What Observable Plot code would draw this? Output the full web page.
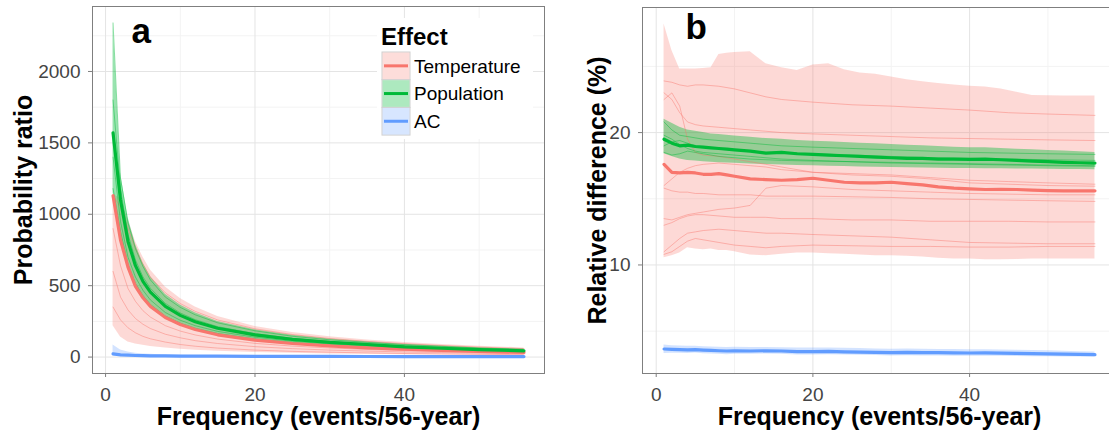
<!DOCTYPE html>
<html>
<head>
<meta charset="utf-8">
<script src="https://cdn.jsdelivr.net/npm/d3@7"></script>
<script src="https://cdn.jsdelivr.net/npm/@observablehq/plot@0.6"></script>
<style>
  html, body { margin: 0; padding: 0; background: #fff; overflow: hidden; }
  #wrap { position: relative; width: 1109px; height: 432px; overflow: hidden; font-family: "Liberation Sans", Arial, sans-serif; }
  #wrap > * { position: absolute; top: 0; }
</style>
</head>
<body>
<div id="wrap"></div>
<script>
// ---------- categories ----------
const effects = ["Temperature", "Population", "AC"];
const effectColors = ["#F8766D", "#00BA38", "#619CFF"];

// ---------- ticks ----------
const xMajor = [0, 20, 40];
const xMinor = [10, 30, 50];
const yMajorA = [0, 500, 1000, 1500, 2000];
const yMinorA = [250, 750, 1250, 1750, 2250];
const yMajorB = [10, 20];
const yMinorB = [5, 15, 25];

// ---------- panel a : probability ratio ----------
const xa = [1, 2, 3, 4, 5, 6, 8, 10, 12, 15, 20, 25, 30, 35, 40, 45, 50, 56];
const tempLineA = [1130, 820, 630, 495, 415, 355, 277, 228, 193, 156, 119, 95, 78, 65, 55, 47, 40, 33];
const tempHiA   = [1140, 1110, 960, 810, 700, 610, 490, 410, 350, 285, 215, 172, 143, 120, 102, 88, 76, 64];
const tempLoA   = [220, 140, 105, 92, 82, 74, 63, 55, 48, 40, 32, 26, 22, 19, 16, 14, 13, 11];
const popLineA  = [1570, 1100, 810, 640, 530, 455, 355, 292, 248, 202, 155, 124, 103, 88, 72, 62, 52, 44];
const popHiA    = [2340, 1290, 980, 790, 660, 565, 440, 365, 310, 250, 192, 152, 126, 107, 90, 77, 65, 56];
const popLoA    = [1150, 860, 620, 490, 410, 350, 272, 225, 192, 157, 121, 97, 81, 70, 58, 50, 42, 35];
const acLineA   = [22, 16, 13, 11, 10, 9, 8, 7, 6.5, 6, 5, 4.6, 4.3, 4, 3.8, 3.6, 3.4, 3.2];
const acHiA     = [85, 50, 35, 27, 22, 19, 15, 13, 11.5, 10, 8.5, 7.5, 6.8, 6.2, 5.8, 5.4, 5, 4.7];
const acLoA     = [8, 6, 5, 4.5, 4, 3.7, 3.3, 3, 2.8, 2.5, 2.2, 2, 1.9, 1.8, 1.7, 1.6, 1.5, 1.4];
// individual model runs (thin lines)
const tempRunA1 = [1130, 1050, 900, 760, 650, 560, 450, 375, 320, 260, 198, 158, 130, 110, 94, 81, 70, 59];
const tempRunA2 = [600, 420, 330, 270, 230, 200, 160, 135, 115, 95, 73, 59, 49, 42, 36, 32, 28, 24];
const tempRunA3 = [350, 260, 205, 170, 145, 128, 105, 88, 76, 63, 49, 40, 34, 29, 25, 22, 19, 17];
const tempRunA4 = [900, 640, 480, 390, 325, 280, 220, 182, 155, 126, 96, 77, 64, 54, 46, 40, 35, 30];
const popRunA1  = [2340, 1250, 940, 760, 635, 540, 420, 348, 296, 240, 184, 146, 121, 103, 87, 75, 63, 54];
const popRunA2  = [1180, 880, 650, 515, 430, 368, 287, 237, 202, 165, 127, 102, 85, 73, 60, 52, 44, 37];
const popRunA3  = [1800, 1180, 860, 680, 562, 482, 376, 309, 262, 213, 164, 131, 109, 93, 77, 66, 56, 47];
const popRunA4  = [1400, 950, 700, 560, 468, 400, 312, 258, 220, 180, 139, 111, 92, 80, 66, 57, 48, 41];

// ---------- panel b : relative difference (%) ----------
const xb = [1, 2, 3, 4, 5, 6, 7, 8, 9, 10, 12, 14, 16, 18, 20, 22, 24, 26, 28, 30, 32, 34, 36, 38, 40, 42, 44, 46, 48, 50, 52, 54, 56];
const tempLineB = [17.6, 17.0, 16.95, 17.0, 16.95, 16.85, 16.85, 16.9, 16.8, 16.7, 16.5, 16.45, 16.4, 16.45, 16.55, 16.4, 16.25, 16.2, 16.2, 16.25, 16.15, 16.05, 15.9, 15.8, 15.75, 15.7, 15.72, 15.7, 15.65, 15.62, 15.6, 15.6, 15.6];
const tempHiB   = [28.2, 26.2, 24.8, 24.8, 24.8, 24.85, 24.9, 25.9, 26.0, 26.05, 26.1, 25.2, 24.9, 24.7, 25.1, 25.2, 24.75, 24.5, 24.4, 24.2, 24.0, 23.85, 23.7, 23.6, 23.5, 23.45, 23.3, 23.05, 22.8, 22.78, 22.77, 22.76, 22.76];
const tempLoB   = [10.55, 10.7, 10.9, 11.3, 11.2, 11.15, 11.2, 11.1, 11.1, 11.0, 10.75, 10.7, 10.8, 10.9, 10.9, 10.85, 10.8, 10.75, 10.7, 10.7, 10.65, 10.6, 10.5, 10.45, 10.45, 10.4, 10.4, 10.42, 10.45, 10.45, 10.45, 10.45, 10.45];
const popLineB  = [19.5, 19.2, 19.0, 19.05, 18.95, 18.9, 18.85, 18.8, 18.75, 18.7, 18.6, 18.45, 18.5, 18.4, 18.35, 18.3, 18.25, 18.2, 18.15, 18.1, 18.05, 18.05, 18.0, 18.0, 17.98, 18.0, 17.95, 17.9, 17.85, 17.8, 17.75, 17.72, 17.7];
const popHiB    = [21.0, 20.7, 20.4, 20.2, 20.1, 20.0, 19.9, 19.85, 19.8, 19.75, 19.65, 19.55, 19.5, 19.4, 19.35, 19.3, 19.25, 19.2, 19.15, 19.1, 19.05, 19.0, 18.95, 18.9, 18.85, 18.85, 18.8, 18.75, 18.7, 18.65, 18.6, 18.55, 18.5];
const popLoB    = [18.4, 18.2, 18.0, 17.9, 17.85, 17.8, 17.75, 17.72, 17.7, 17.68, 17.62, 17.58, 17.55, 17.52, 17.5, 17.46, 17.43, 17.4, 17.38, 17.36, 17.34, 17.32, 17.3, 17.29, 17.28, 17.27, 17.26, 17.25, 17.24, 17.23, 17.22, 17.21, 17.2];
const acLineB   = [3.65, 3.62, 3.6, 3.58, 3.6, 3.57, 3.55, 3.52, 3.5, 3.52, 3.5, 3.52, 3.5, 3.45, 3.45, 3.47, 3.44, 3.42, 3.4, 3.38, 3.4, 3.38, 3.37, 3.36, 3.35, 3.36, 3.34, 3.32, 3.3, 3.28, 3.26, 3.24, 3.22];
const acHiB     = [3.95, 3.9, 3.87, 3.85, 3.85, 3.83, 3.8, 3.78, 3.77, 3.78, 3.76, 3.77, 3.75, 3.72, 3.72, 3.72, 3.7, 3.68, 3.66, 3.64, 3.65, 3.63, 3.62, 3.61, 3.6, 3.6, 3.58, 3.56, 3.54, 3.52, 3.48, 3.45, 3.42];
const acLoB     = [3.32, 3.33, 3.33, 3.32, 3.34, 3.3, 3.28, 3.26, 3.22, 3.26, 3.25, 3.27, 3.25, 3.2, 3.2, 3.22, 3.2, 3.18, 3.16, 3.13, 3.15, 3.13, 3.12, 3.11, 3.1, 3.11, 3.1, 3.08, 3.07, 3.06, 3.05, 3.05, 3.05];
// individual model runs (thin lines)
const xbRuns = [1, 2, 3, 4, 5, 6, 8, 10, 12, 14, 16, 20, 25, 30, 35, 40, 45, 50, 56];
const tempRunB1 = [23.9, 23.8, 23.6, 23.5, 23.6, 23.6, 23.5, 23.3, 23.0, 22.7, 22.5, 22.3, 22.1, 22.0, 21.85, 21.7, 21.5, 21.4, 21.3];
const tempRunB2 = [23.0, 22.5, 21.5, 20.8, 20.6, 20.5, 20.4, 20.3, 20.2, 20.1, 20.0, 19.9, 19.8, 19.7, 19.6, 19.55, 19.5, 19.45, 19.4];
const tempRunB3 = [22.5, 23.0, 22.0, 19.5, 18.5, 18.3, 18.2, 18.0, 17.8, 17.6, 17.4, 17.0, 16.8, 16.7, 16.5, 16.2, 16.1, 16.0, 15.95];
const tempRunB4 = [15.8, 15.6, 15.5, 15.5, 15.4, 15.4, 15.3, 15.3, 15.3, 15.2, 15.2, 15.2, 15.15, 15.1, 15.0, 14.95, 14.9, 14.85, 14.8];
const tempRunB5 = [13.5, 13.4, 13.6, 13.8, 13.9, 14.0, 14.2, 14.3, 14.5, 15.8, 16.0, 15.9, 15.7, 15.6, 15.5, 15.4, 15.35, 15.3, 15.3];
const tempRunB6 = [13.0, 13.2, 13.5, 13.7, 13.8, 13.8, 13.7, 13.6, 13.6, 13.6, 13.5, 13.5, 13.4, 13.4, 13.3, 13.3, 13.3, 13.25, 13.25];
const tempRunB7 = [11.0, 11.5, 12.0, 12.4, 12.5, 12.6, 12.7, 12.6, 12.5, 12.4, 12.4, 12.3, 12.2, 12.1, 11.9, 11.7, 11.65, 11.6, 11.6];
const tempRunB8 = [10.8, 11.0, 11.4, 11.8, 12.0, 11.9, 11.7, 11.5, 11.4, 11.3, 11.4, 11.5, 11.45, 11.4, 11.4, 11.35, 11.35, 11.4, 11.4];
const tempRunB9 = [16.0, 16.5, 17.0, 17.3, 17.5, 17.6, 17.7, 17.6, 17.5, 17.4, 17.2, 17.0, 16.9, 16.8, 16.6, 16.4, 16.3, 16.2, 16.1];
const popRunB1  = [20.8, 20.2, 19.8, 19.7, 19.6, 19.5, 19.4, 19.3, 19.2, 19.1, 19.0, 18.9, 18.8, 18.7, 18.6, 18.5, 18.45, 18.4, 18.35];
const popRunB2  = [19.0, 19.3, 19.4, 19.2, 19.0, 18.9, 18.8, 18.7, 18.6, 18.5, 18.5, 18.4, 18.3, 18.2, 18.1, 18.05, 18.0, 17.95, 17.9];
const popRunB3  = [18.5, 18.3, 18.4, 18.6, 18.5, 18.4, 18.2, 18.1, 18.0, 17.95, 17.9, 17.85, 17.8, 17.7, 17.65, 17.6, 17.55, 17.5, 17.45];
const popRunB4  = [19.8, 19.5, 19.1, 18.8, 18.6, 18.5, 18.4, 18.3, 18.2, 18.1, 18.0, 17.9, 17.8, 17.75, 17.7, 17.65, 17.6, 17.55, 17.5];

// ---------- texts ----------
const xTitle = "Frequency (events/56-year)";
const yTitleA = "Probability ratio";
const yTitleB = "Relative difference (%)";
const legendTitle = "Effect";

// ---------- helpers ----------
const lineRows = (xs, ys, series, id) => xs.map((x, i) => ({x, y: ys[i], series, id: id || series}));
const bandRows = (xs, lo, hi, series) => xs.map((x, i) => ({x, lo: lo[i], hi: hi[i], series}));

const bandsA = [
  ...bandRows(xa, tempLoA, tempHiA, "Temperature"),
  ...bandRows(xa, popLoA, popHiA, "Population"),
  ...bandRows(xa, acLoA, acHiA, "AC")
];
const runsA = [
  ...[tempRunA1, tempRunA2, tempRunA3, tempRunA4].flatMap((r, k) => lineRows(xa, r, "Temperature", "t" + k)),
  ...[popRunA1, popRunA2, popRunA3, popRunA4].flatMap((r, k) => lineRows(xa, r, "Population", "p" + k))
];
const mainA = [
  ...lineRows(xa, tempLineA, "Temperature"),
  ...lineRows(xa, popLineA, "Population"),
  ...lineRows(xa, acLineA, "AC")
];
const bandsB = [
  ...bandRows(xb, tempLoB, tempHiB, "Temperature"),
  ...bandRows(xb, popLoB, popHiB, "Population"),
  ...bandRows(xb, acLoB, acHiB, "AC")
];
const runsB = [
  ...[tempRunB1, tempRunB2, tempRunB3, tempRunB4, tempRunB5, tempRunB6, tempRunB7, tempRunB8, tempRunB9]
     .flatMap((r, k) => lineRows(xbRuns, r, "Temperature", "t" + k)),
  ...[popRunB1, popRunB2, popRunB3, popRunB4]
     .flatMap((r, k) => lineRows(xbRuns, r, "Population", "p" + k))
];
const mainB = [
  ...lineRows(xb, tempLineB, "Temperature"),
  ...lineRows(xb, popLineB, "Population"),
  ...lineRows(xb, acLineB, "AC")
];

const FONT = "Liberation Sans, Arial, Helvetica, sans-serif";
const gridMajor = "#e4e4e4", gridMinor = "#f3f3f3", border = "#7f7f7f", tickText = "#444444";
const bandAlpha = d => d.series === "Population" ? 0.4 : 0.28;

function panel({width, marginLeft, marginRight, marginTop, yDomain, yMajor, yMinor, bands, runs, main, yTitle, yTitleDx, tag, tagDx, tagDy}) {
  return Plot.plot({
    width, height: 432,
    marginLeft, marginRight, marginTop, marginBottom: 432 - 373,
    x: {domain: [-1.75, 58.75]},
    y: {domain: yDomain},
    color: {domain: effects, range: effectColors},
    style: {fontFamily: FONT, fontSize: "19px", background: "transparent", overflow: "visible"},
    marks: [
      Plot.ruleY(yMinor, {stroke: gridMinor}),
      Plot.ruleX(xMinor, {stroke: gridMinor}),
      Plot.ruleY(yMajor, {stroke: gridMajor}),
      Plot.ruleX(xMajor, {stroke: gridMajor}),
      Plot.areaY(bands, {x: "x", y1: "lo", y2: "hi", z: "series", fill: "series", fillOpacity: bandAlpha}),
      Plot.line(runs, {x: "x", y: "y", z: "id", stroke: "series", strokeOpacity: 0.45, strokeWidth: 1}),
      Plot.line(main, {x: "x", y: "y", z: "series", stroke: "series", strokeWidth: 3.2}),
      Plot.frame({stroke: border}),
      Plot.axisX({ticks: xMajor, tickSize: 4, tickPadding: 10, stroke: border, color: tickText, fontSize: 19, label: null}),
      Plot.axisY({ticks: yMajor, tickSize: 4, tickPadding: 8, stroke: border, color: tickText, fontSize: 19, label: null, tickFormat: d3.format("d")}),
      Plot.text([xTitle], {text: d => d, frameAnchor: "bottom", dy: 51, lineAnchor: "bottom", fontSize: 25, fontWeight: "bold", fill: "#000"}),
      Plot.text([yTitle], {text: d => d, frameAnchor: "left", dx: yTitleDx, rotate: -90, textAnchor: "middle", lineAnchor: "bottom", fontSize: 25, fontWeight: "bold", fill: "#000"}),
      Plot.text([tag], {text: d => d, frameAnchor: "top-left", dx: tagDx, dy: tagDy, textAnchor: "start", lineAnchor: "bottom", fontSize: 35, fontWeight: "bold", fill: "#000"})
    ]
  });
}

const wrap = document.getElementById("wrap");

const svgA = panel({
  width: 556, marginLeft: 92, marginRight: 12, marginTop: 6,
  yDomain: [-115, 2455], yMajor: yMajorA, yMinor: yMinorA,
  bands: bandsA, runs: runsA, main: mainA,
  yTitle: yTitleA, yTitleDx: -61, tag: "a", tagDx: 39, tagDy: 36
});
svgA.style.left = "0px";
wrap.appendChild(svgA);

const svgB = panel({
  width: 564, marginLeft: 86, marginRight: 4, marginTop: 7,
  yDomain: [1.8, 29.45], yMajor: yMajorB, yMinor: yMinorB,
  bands: bandsB, runs: runsB, main: mainB,
  yTitle: yTitleB, yTitleDx: -37, tag: "b", tagDx: 43, tagDy: 31
});
svgB.style.left = "556px";
wrap.appendChild(svgB);

// ---------- legend (inside panel a) ----------
const leg = d3.create("svg").attr("width", 1109).attr("height", 432)
  .style("left", "0px").style("pointer-events", "none")
  .attr("font-family", FONT);
leg.append("rect").attr("x", 377).attr("y", 18).attr("width", 156).attr("height", 121).attr("fill", "#fff");
leg.append("text").attr("x", 381).attr("y", 45).attr("font-size", 24).attr("font-weight", "bold").text(legendTitle);
const keyH = 27.7;
effects.forEach((e, i) => {
  const y0 = 52 + i * keyH;
  leg.append("rect").attr("x", 382).attr("y", y0).attr("width", 28).attr("height", keyH)
    .attr("fill", "#fff").attr("stroke", "#d0d0d0").attr("stroke-width", 1);
  leg.append("rect").attr("x", 382.5).attr("y", y0 + 0.5).attr("width", 27).attr("height", keyH - 1)
    .attr("fill", effectColors[i]).attr("fill-opacity", i === 1 ? 0.32 : 0.25);
  leg.append("line").attr("x1", 384).attr("x2", 408).attr("y1", y0 + keyH / 2).attr("y2", y0 + keyH / 2)
    .attr("stroke", effectColors[i]).attr("stroke-width", 3);
  leg.append("text").attr("x", 414).attr("y", y0 + keyH / 2).attr("dy", "0.35em")
    .attr("font-size", 19).attr("fill", "#000").text(e);
});
wrap.appendChild(leg.node());
</script>
</body>
</html>
